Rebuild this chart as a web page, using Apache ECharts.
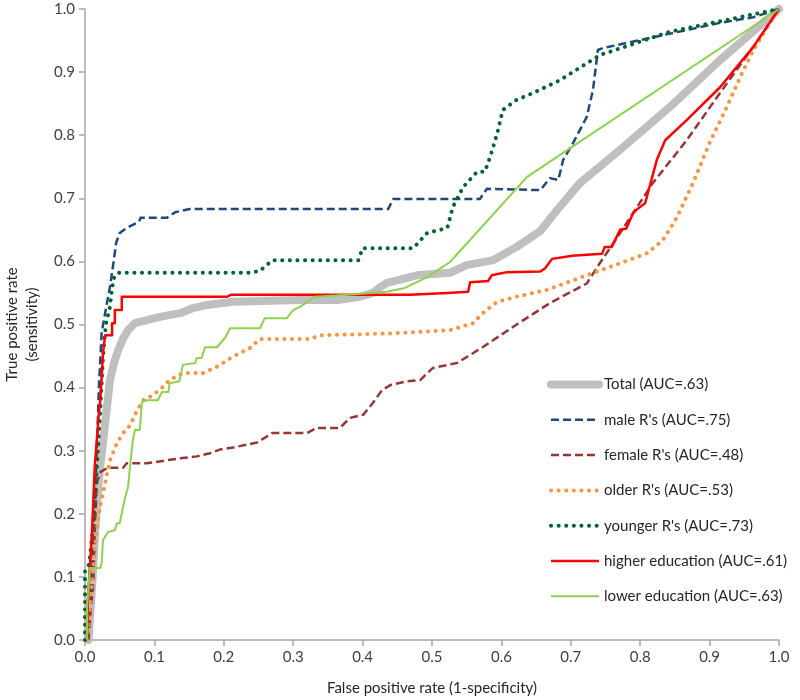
<!DOCTYPE html>
<html>
<head>
<meta charset="utf-8">
<script src="https://cdn.jsdelivr.net/npm/echarts@6/dist/echarts.min.js"></script>
<style>html,body{margin:0;padding:0;background:#fff}#c{width:800px;height:700px}</style>
</head>
<body>
<div id="c"></div>
<script>
// ROC curves: [false positive rate, true positive rate]
var total = [[0.005,0],[0.01,0.08],[0.014,0.16],[0.02,0.254],[0.028,0.333],[0.036,0.412],[0.042,0.44],[0.048,0.46],[0.055,0.478],[0.062,0.491],[0.072,0.502],[0.089,0.507],[0.108,0.512],[0.137,0.518],[0.156,0.526],[0.176,0.531],[0.213,0.536],[0.31,0.539],[0.367,0.539],[0.396,0.544],[0.415,0.55],[0.425,0.559],[0.435,0.566],[0.454,0.571],[0.478,0.578],[0.526,0.582],[0.55,0.594],[0.588,0.602],[0.622,0.623],[0.656,0.648],[0.68,0.681],[0.713,0.724],[0.771,0.777],[0.843,0.845],[0.915,0.919],[1,1]];
var male = [[0.005,0],[0.01,0.1],[0.013,0.2],[0.017,0.3],[0.02,0.4],[0.024,0.487],[0.029,0.518],[0.036,0.56],[0.04,0.59],[0.045,0.63],[0.05,0.645],[0.06,0.653],[0.078,0.663],[0.08,0.669],[0.118,0.669],[0.13,0.678],[0.151,0.683],[0.437,0.683],[0.444,0.699],[0.569,0.699],[0.579,0.715],[0.656,0.713],[0.67,0.732],[0.682,0.729],[0.689,0.761],[0.703,0.787],[0.723,0.829],[0.732,0.872],[0.739,0.935],[0.746,0.938],[0.843,0.961],[0.915,0.978],[0.963,0.987],[1,1]];
var female = [[0.004,0],[0.012,0.09],[0.014,0.17],[0.017,0.249],[0.022,0.266],[0.033,0.273],[0.055,0.273],[0.06,0.28],[0.089,0.28],[0.137,0.288],[0.161,0.291],[0.18,0.296],[0.195,0.302],[0.213,0.305],[0.248,0.313],[0.27,0.328],[0.32,0.328],[0.334,0.336],[0.367,0.336],[0.382,0.352],[0.401,0.357],[0.415,0.376],[0.428,0.396],[0.44,0.404],[0.464,0.41],[0.483,0.412],[0.501,0.431],[0.536,0.439],[0.573,0.464],[0.622,0.5],[0.67,0.534],[0.723,0.565],[0.74,0.594],[0.771,0.645],[0.818,0.724],[0.867,0.792],[0.915,0.867],[0.963,0.94],[1,1]];
var older = [[0.003,0],[0.004,0.011],[0.01,0.09],[0.014,0.143],[0.019,0.195],[0.026,0.233],[0.036,0.285],[0.046,0.312],[0.055,0.328],[0.065,0.34],[0.075,0.364],[0.084,0.38],[0.098,0.388],[0.112,0.401],[0.122,0.412],[0.141,0.423],[0.17,0.423],[0.19,0.433],[0.213,0.449],[0.238,0.463],[0.252,0.477],[0.324,0.477],[0.339,0.483],[0.444,0.486],[0.526,0.491],[0.559,0.502],[0.573,0.518],[0.594,0.536],[0.622,0.544],[0.666,0.555],[0.723,0.578],[0.771,0.597],[0.81,0.613],[0.833,0.634],[0.853,0.67],[0.876,0.724],[0.9,0.788],[0.925,0.845],[0.944,0.892],[0.963,0.935],[0.983,0.971],[1,1]];
var younger = [[0,0],[0,0.11],[0.006,0.12],[0.012,0.185],[0.017,0.274],[0.022,0.364],[0.026,0.45],[0.03,0.5],[0.036,0.528],[0.039,0.558],[0.042,0.575],[0.048,0.582],[0.238,0.582],[0.252,0.585],[0.27,0.602],[0.394,0.602],[0.4,0.621],[0.473,0.621],[0.493,0.645],[0.522,0.653],[0.53,0.686],[0.545,0.718],[0.565,0.742],[0.576,0.742],[0.584,0.766],[0.594,0.803],[0.602,0.84],[0.622,0.856],[0.646,0.867],[0.684,0.887],[0.742,0.927],[0.843,0.964],[0.939,0.986],[1,1]];
var higher = [[0.003,0],[0.004,0.063],[0.01,0.17],[0.014,0.274],[0.02,0.36],[0.022,0.38],[0.026,0.455],[0.029,0.483],[0.039,0.483],[0.039,0.502],[0.043,0.502],[0.043,0.523],[0.053,0.523],[0.053,0.544],[0.205,0.544],[0.21,0.547],[0.468,0.547],[0.522,0.55],[0.552,0.552],[0.555,0.567],[0.581,0.569],[0.586,0.578],[0.608,0.583],[0.656,0.584],[0.663,0.589],[0.673,0.604],[0.702,0.609],[0.745,0.612],[0.749,0.623],[0.759,0.623],[0.771,0.65],[0.78,0.652],[0.79,0.677],[0.797,0.684],[0.807,0.692],[0.811,0.708],[0.824,0.761],[0.836,0.792],[0.867,0.824],[0.915,0.876],[0.963,0.94],[1,1]];
var lower = [[0.003,0],[0.003,0.052],[0.007,0.114],[0.022,0.114],[0.024,0.122],[0.026,0.158],[0.033,0.171],[0.043,0.174],[0.046,0.185],[0.05,0.185],[0.053,0.201],[0.058,0.227],[0.062,0.242],[0.065,0.277],[0.069,0.317],[0.072,0.333],[0.079,0.333],[0.082,0.377],[0.089,0.38],[0.105,0.38],[0.111,0.393],[0.12,0.393],[0.122,0.407],[0.136,0.41],[0.141,0.436],[0.159,0.439],[0.161,0.447],[0.168,0.447],[0.173,0.464],[0.19,0.464],[0.202,0.479],[0.209,0.494],[0.252,0.494],[0.259,0.51],[0.291,0.51],[0.3,0.523],[0.31,0.528],[0.331,0.544],[0.378,0.547],[0.435,0.552],[0.461,0.558],[0.493,0.575],[0.526,0.599],[0.637,0.734],[1,1]];

var seriesNames = ["Total (AUC=.63)", "male R's (AUC=.75)", "female R's (AUC=.48)", "older R's (AUC=.53)", "younger R's (AUC=.73)", "higher education (AUC=.61)", "lower education (AUC=.63)"];
var xTickLabels = ["0.0","0.1","0.2","0.3","0.4","0.5","0.6","0.7","0.8","0.9","1.0"];
var yTickLabels = ["0.0","0.1","0.2","0.3","0.4","0.5","0.6","0.7","0.8","0.9","1.0"];

var FONT = 'Lato';
var styles = [
  { color: '#bfbfbf', width: 8, type: 'solid', cap: 'round' },
  { color: '#1f497d', width: 2.5, type: [8, 4], cap: 'butt' },
  { color: '#953735', width: 2.5, type: [8, 4], cap: 'butt' },
  { color: '#f79646', width: 4, type: [0.1, 7.5], cap: 'round' },
  { color: '#00642f', width: 4, type: [0.1, 7.5], cap: 'round' },
  { color: '#ff0000', width: 2.5, type: 'solid', cap: 'butt' },
  { color: '#8fd14f', width: 2, type: 'solid', cap: 'butt' }
];
var datasets = [total, male, female, older, younger, higher, lower];

var series = datasets.map(function (d, i) {
  var s = styles[i];
  return {
    name: seriesNames[i], type: 'line', data: d, symbol: 'none', showSymbol: false,
    lineStyle: { color: s.color, width: s.width, type: s.type, cap: s.cap, join: 'round' },
    itemStyle: { color: s.color },
    emphasis: { disabled: true }, animation: false
  };
});
var legendData = seriesNames.map(function (n, i) {
  var s = styles[i];
  return { name: n, lineStyle: { width: s.width, type: s.type, cap: s.cap, color: s.color },
           itemStyle: { opacity: 0 } };
});

var chart = echarts.init(document.getElementById('c'), null, { renderer: 'canvas' });
chart.setOption({
  backgroundColor: '#ffffff',
  animation: false,
  textStyle: { fontFamily: FONT },
  grid: { left: 85, right: 21, top: 9, bottom: 60, containLabel: false, outerBoundsMode: 'none' },
  xAxis: {
    type: 'value', min: 0, max: 1, interval: 0.1,
    name: 'False positive rate (1-specificity)', nameLocation: 'middle', nameGap: 41,
    nameTextStyle: { fontSize: 15, color: '#262626', fontFamily: FONT },
    axisLine: { show: true, lineStyle: { color: '#a6a6a6', width: 1.5 } },
    axisTick: { show: true, length: 6, lineStyle: { color: '#a6a6a6', width: 1.5 } },
    axisLabel: { fontSize: 15, color: '#404040', margin: 10, fontFamily: FONT,
      formatter: function (v) { return xTickLabels[Math.round(v * 10)]; } },
    splitLine: { show: false }
  },
  yAxis: {
    type: 'value', min: 0, max: 1, interval: 0.1,
    name: 'True positive rate\n(sensitivity)', nameLocation: 'middle', nameGap: 43, nameRotate: 90,
    nameTextStyle: { fontSize: 15, color: '#262626', lineHeight: 20, fontFamily: FONT },
    axisLine: { show: true, lineStyle: { color: '#a6a6a6', width: 1.5 } },
    axisTick: { show: true, length: 6, lineStyle: { color: '#a6a6a6', width: 1.5 } },
    axisLabel: { fontSize: 15, color: '#404040', margin: 10, fontFamily: FONT,
      formatter: function (v) { return yTickLabels[Math.round(v * 10)]; } },
    splitLine: { show: false }
  },
  legend: {
    orient: 'vertical', left: 542, top: 372,
    itemWidth: 48, itemHeight: 14, itemGap: 20.3,
    itemStyle: { opacity: 0 },
    textStyle: { fontSize: 15, color: '#262626', fontFamily: FONT },
    data: legendData
  },
  series: series
});
</script>
</body>
</html>
